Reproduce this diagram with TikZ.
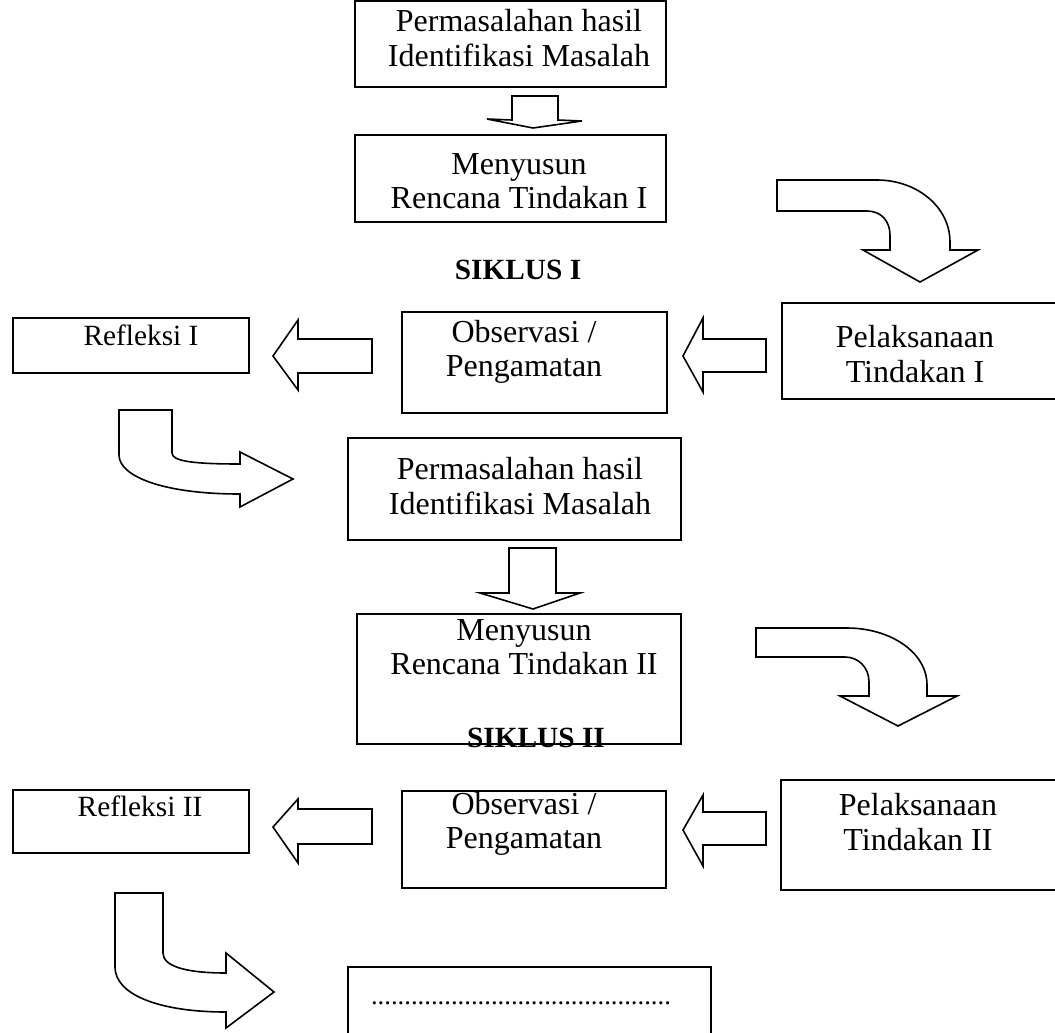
\documentclass[tikz,border=0pt]{standalone}
\usepackage{fontspec}
\setmainfont{Liberation Serif}
\usetikzlibrary{fit}
\tikzset{
  box/.style={draw, line width=0.5pt, inner sep=0pt},
  txt/.style={align=center, inner sep=0pt, font=\fontsize{12}{12.8}\selectfont},
  small/.style={inner sep=0pt, font=\fontsize{11}{13}\selectfont},
  siklus/.style={inner sep=0pt, font=\fontsize{11}{13}\selectfont\bfseries},
  blk/.style={draw, line width=0.6pt, line join=miter}
}
\begin{document}
\begin{tikzpicture}[x=0.375pt, y=-0.375pt]
\useasboundingbox (0,0) rectangle (1055,1033);
\clip (0,0) rectangle (1055,1033);
% siklus I
\node[box, fit={(355,1) (666,87)}] (masalah1) {};
\node[txt] (masalah1t) at (519,38) {Permasalahan hasil\\Identifikasi Masalah};
\node[box, fit={(355,135) (666,222)}] (rencana1) {};
\node[txt] (rencana1t) at (519,181) {Menyusun\\Rencana Tindakan I};
\node[siklus] (siklus1) at (518,270) {SIKLUS I};
\node[box, fit={(13,318) (249,373)}] (refleksi1) {};
\node[small] (refleksi1t) at (141,335) {Refleksi I};
\node[box, fit={(402,312) (667,413)}] (observasi1) {};
\node[txt] (observasi1t) at (524,352) {Observasi /\\Pengamatan};
\node[box, fit={(782,303) (1065,399)}] (pelaksanaan1) {};
\node[txt] (pelaksanaan1t) at (915,354) {Pelaksanaan\\Tindakan I};
% siklus II
\node[box, fit={(348,438) (681,540)}] (masalah2) {};
\node[txt] (masalah2t) at (520,486) {Permasalahan hasil\\Identifikasi Masalah};
\node[box, fit={(357,614) (681,744)}] (rencana2) {};
\node[txt] (rencana2t) at (524,647) {Menyusun\\Rencana Tindakan II};
\node[siklus] (siklus2) at (536,738) {SIKLUS II};
\node[box, fit={(13,790) (249,853)}] (refleksi2) {};
\node[small] (refleksi2t) at (140,806) {Refleksi II};
\node[box, fit={(402,791) (666,888)}] (observasi2) {};
\node[txt] (observasi2t) at (524,824) {Observasi /\\Pengamatan};
\node[box, fit={(781,780) (1065,890)}] (pelaksanaan2) {};
\node[txt] (pelaksanaan2t) at (918,822) {Pelaksanaan\\Tindakan II};
\node[box, fit={(348,967) (711,1045)}] (akhir) {};
\node[inner sep=0pt, font=\fontsize{10}{12}\selectfont] (akhirt) at (521,1003) {.............................................};
% block arrows
\draw[blk] (512,96) -- (558,96) -- (558,120) -- (582,121) -- (533,128) -- (487,119) -- (512,120) -- cycle;
\draw[blk] (777,180) -- (877,180) .. controls (917,180) and (950,207) .. (950,242) -- (950,250) -- (978,250) -- (920,282) -- (863,250) -- (890,250) -- (890,235) .. controls (890,221) and (881,211) .. (867,211) -- (777,211) -- cycle;
\draw[blk] (766,339) -- (703,339) -- (703,318) -- (683,356) -- (703,392) -- (703,372) -- (766,372) -- cycle;
\draw[blk] (372,339) -- (298,339) -- (298,320) -- (273,356) -- (298,390) -- (298,373) -- (372,373) -- cycle;
\draw[blk] (119,410) -- (172,410) -- (172,453) .. controls (172,461) and (192,464) .. (240,464) -- (240,452) -- (293,479) -- (240,507) -- (240,494) .. controls (162,494) and (119,476) .. (119,455) -- cycle;
\draw[blk] (509,548) -- (556,548) -- (556,593) -- (580,593) -- (533,609) -- (480,593) -- (509,593) -- cycle;
\draw[blk] (756,628) -- (847,628) .. controls (890,628) and (927,652) .. (927,685) -- (927,696) -- (957,696) -- (898,726) -- (840,696) -- (869,696) -- (869,682) .. controls (869,667) and (858,657) .. (845,657) -- (756,657) -- cycle;
\draw[blk] (766,812) -- (703,812) -- (703,795) -- (683,830) -- (703,866) -- (703,845) -- (766,845) -- cycle;
\draw[blk] (372,809) -- (298,809) -- (298,799) -- (273,827) -- (298,863) -- (298,844) -- (372,844) -- cycle;
\draw[blk] (115,893) -- (163,893) -- (163,953) .. controls (163,966) and (185,973) .. (226,973) -- (226,953) -- (274,992) -- (226,1028) -- (226,1012) .. controls (160,1012) and (115,995) .. (115,967) -- cycle;
\end{tikzpicture}
\end{document}
